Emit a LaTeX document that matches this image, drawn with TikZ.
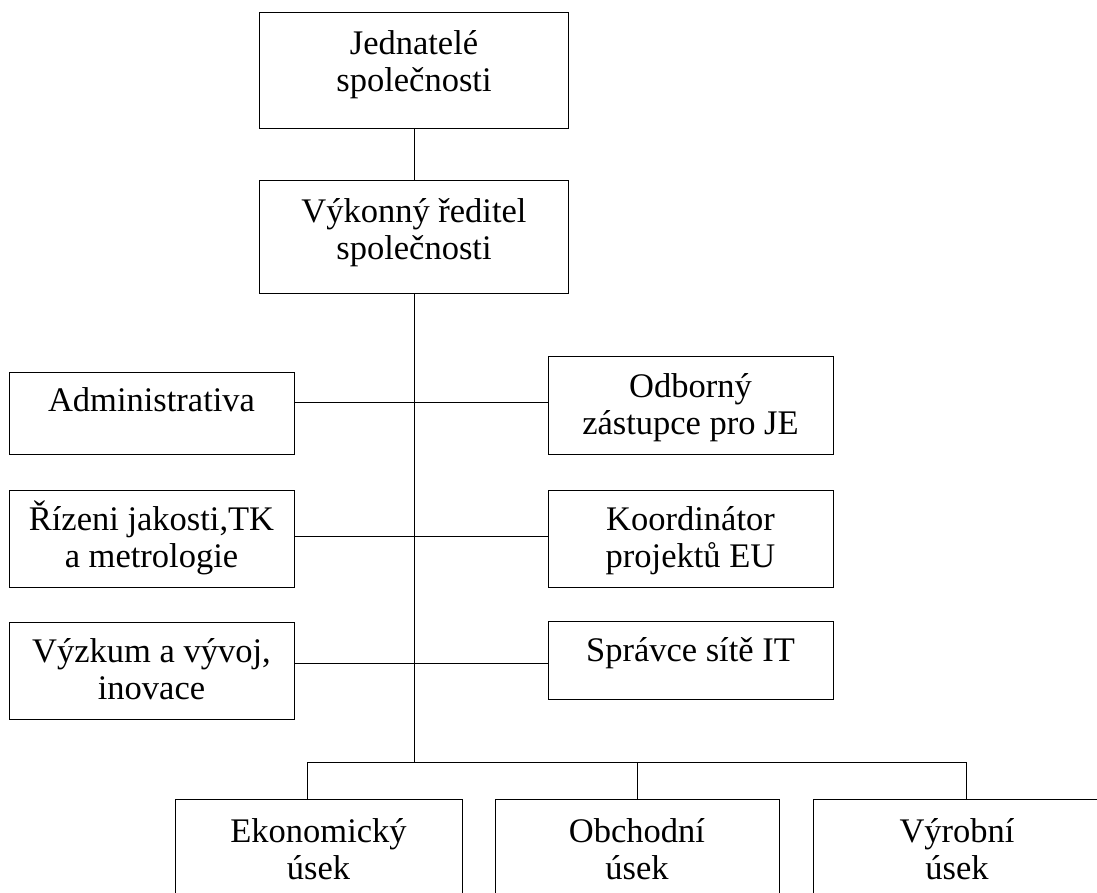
\documentclass[tikz,border=0pt]{standalone}
\usepackage{fontspec}
\setmainfont{Liberation Serif}
\usepackage{tikz}
\usetikzlibrary{
  positioning,
  calc,
  }

\newcommand{\boxtext}[4][42pt]{\parbox[c][#3][t]{#2}{\centering\rule{0pt}{#1}#4}}

\begin{document}
\begin{tikzpicture}[x=1pt, y=-1pt, line width=1pt,
                    every node/.style={draw, inner sep=0pt, font=\fontsize{34.5}{37}\selectfont}]
                    \useasboundingbox (0,0) rectangle (1097,892);
                    \clip (0,0) rectangle (1097,892);
                    \node (jed) at (414,70) {\boxtext{309pt}{116pt}{Jednatelé\\ společnosti}};
                    \node (vyk) at (414,236.5) {\boxtext{309pt}{113pt}{Výkonný ředitel\\ společnosti}};
                    \node (adm) at (151.5,413) {\boxtext[39pt]{285pt}{82pt}{Administrativa}};
                    \node (riz) at (151.5,538.5) {\boxtext[40pt]{285pt}{97pt}{Řízeni jakosti,TK\\ a metrologie}};
                    \node (vyz) at (151.5,670.5) {\boxtext[40pt]{285pt}{97pt}{Výzkum a vývoj,\\ inovace}};
                    \node (odb) at (690.5,405) {\boxtext[41pt]{285pt}{98pt}{Odborný\\ zástupce pro JE}};
                    \node (koo) at (690.5,538.5) {\boxtext[40pt]{285pt}{97pt}{Koordinátor\\ projektů EU}};
                    \node (spr) at (690.5,660) {\boxtext[40pt]{285pt}{78pt}{Správce sítě IT}};
                    \node (eko) at (318.5,859.5) {\boxtext[43pt]{287pt}{121pt}{Ekonomický\\ úsek}};
                    \node (obc) at (637,859.5) {\boxtext[43pt]{284pt}{121pt}{Obchodní\\ úsek}};
                    \node (vyr) at (957,859.5) {\boxtext[43pt]{288pt}{121pt}{Výrobní\\ úsek}};
                    \coordinate (r1) at (414,402);
                    \coordinate (r2) at (414,536);
                    \coordinate (r3) at (414,663);
                    \coordinate (busL) at (307,762);
                    \coordinate (busR) at (966,762);
                    \draw (jed.south) -- (vyk.north);
                    \draw (vyk.south) -- (vyk.south |- busL);
                    \draw (adm.east |- r1) -- (odb.west |- r1);
                    \draw (riz.east |- r2) -- (koo.west |- r2);
                    \draw (vyz.east |- r3) -- (spr.west |- r3);
                    \draw (busL |- eko.north) |- (busR) -- (busR |- vyr.north);
                    \draw (obc.north) -- (obc.north |- busL);
                \end{tikzpicture}
\end{document}
